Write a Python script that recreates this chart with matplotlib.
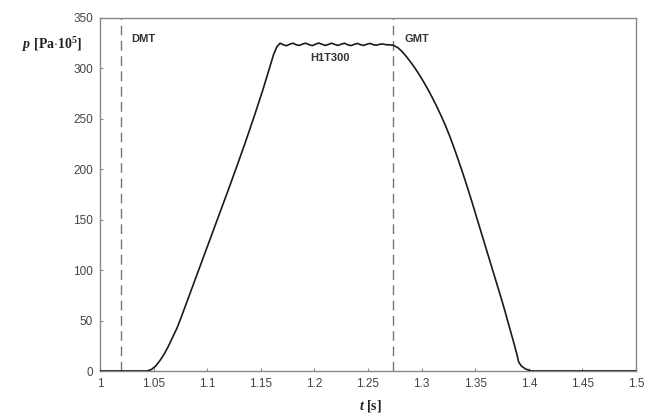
import matplotlib
matplotlib.use("Agg")
import matplotlib.pyplot as plt

# pressure trace H1T300
t_rise = [1.000, 1.044, 1.048, 1.052, 1.056, 1.060, 1.064, 1.068, 1.072, 1.076,
          1.080, 1.088, 1.096, 1.104, 1.112, 1.120, 1.128, 1.136, 1.144, 1.152,
          1.158, 1.162, 1.165]
p_rise = [0, 0, 1.5, 5, 10.5, 17, 25, 34, 43, 54,
          65.5, 88.5, 111.5, 134.5, 157.5, 180.5, 204, 228, 253, 279,
          300, 314, 321.5]

t_top = [1.168, 1.171, 1.174, 1.177, 1.180, 1.183, 1.186, 1.189, 1.192, 1.195,
         1.198, 1.201, 1.204, 1.207, 1.210, 1.213, 1.216, 1.219, 1.222, 1.225,
         1.228, 1.231, 1.234, 1.237, 1.240, 1.243, 1.246, 1.249, 1.252, 1.255,
         1.258, 1.261, 1.264, 1.267, 1.270, 1.2736]
p_top = [325, 323.5, 322.5, 324, 325, 323.5, 322.8, 324.2, 325, 323.6,
         322.6, 324, 325.2, 324, 322.8, 323.8, 325, 323.8, 322.8, 324,
         325, 323.5, 322.6, 323.8, 324.8, 323.6, 322.8, 324, 324.8, 323.5,
         323, 324, 324.2, 323.5, 323.4, 323]

t_fall = [1.278, 1.282, 1.286, 1.290, 1.294, 1.298, 1.302, 1.306, 1.310, 1.314,
          1.318, 1.322, 1.326, 1.330, 1.334, 1.338, 1.342, 1.346, 1.350, 1.354,
          1.358, 1.362, 1.366, 1.370, 1.374, 1.378, 1.382, 1.386, 1.389, 1.3905,
          1.393, 1.397, 1.402, 1.500]
p_fall = [320.5, 316.5, 311.5, 306, 300, 293.5, 286.5, 279, 271, 262.5,
          253.5, 244, 233.5, 222, 210, 197.5, 184.5, 171, 157, 143,
          129, 115, 101, 87, 73, 58.5, 43, 28, 16, 9,
          5, 2, 0, 0]

markers = {"DMT": 1.0196, "GMT": 1.2736}
x_ticks = [1, 1.05, 1.1, 1.15, 1.2, 1.25, 1.3, 1.35, 1.4, 1.45, 1.5]
x_labels = ["1", "1.05", "1.1", "1.15", "1.2", "1.25", "1.3", "1.35", "1.4", "1.45", "1.5"]
y_ticks = [0, 50, 100, 150, 200, 250, 300, 350]

plt.rcParams["font.family"] = ["Liberation Sans", "DejaVu Sans"]
plt.rcParams["mathtext.fontset"] = "custom"
plt.rcParams["mathtext.rm"] = "Liberation Serif:bold"
plt.rcParams["mathtext.it"] = "Liberation Serif:italic:bold"
plt.rcParams["mathtext.bf"] = "Liberation Serif:bold"

t = t_rise + t_top + t_fall
p = p_rise + p_top + p_fall

fig = plt.figure(figsize=(6.57, 4.16), dpi=100)
ax = fig.add_axes([100 / 657, 1 - 371 / 416, 536 / 657, 353 / 416])

ax.plot(t, p, color="#1a1a1a", lw=1.2, zorder=3)

for name, tm in markers.items():
    ax.axvline(tm, color="#777777", lw=1.0, ls=(0, (7, 4)), zorder=2)
    ax.text(tm + 0.01, 329, name, fontsize=8, fontweight="bold",
            color="#333333", ha="left", va="center")

ax.text(1.215, 310, "H1T300", fontsize=8, fontweight="bold",
        color="#333333", ha="center", va="center")

ax.set_xlim(1, 1.5)
ax.set_ylim(0, 350)
ax.set_xticks(x_ticks)
ax.set_xticklabels(x_labels)
ax.set_yticks(y_ticks)
ax.tick_params(axis="both", direction="in", length=2, width=0.8,
               colors="#888888", labelcolor="#444444", labelsize=8.5)
ax.tick_params(axis="x", pad=5)
ax.tick_params(axis="y", pad=5)

for s in ax.spines.values():
    s.set_color("#888888")
    s.set_linewidth(1.0)

fig.text(82 / 657, 1 - 45 / 416, r"$p$ [Pa$\cdot$10$^5$]", fontsize=10,
         family="Liberation Serif", fontweight="bold", ha="right", va="center",
         color="#222222")
fig.text(370 / 657, 1 - 406 / 416, r"$t$ [s]", fontsize=10,
         family="Liberation Serif", fontweight="bold", ha="center", va="center",
         color="#222222")

fig.savefig("out.png", dpi=100, facecolor="white")
